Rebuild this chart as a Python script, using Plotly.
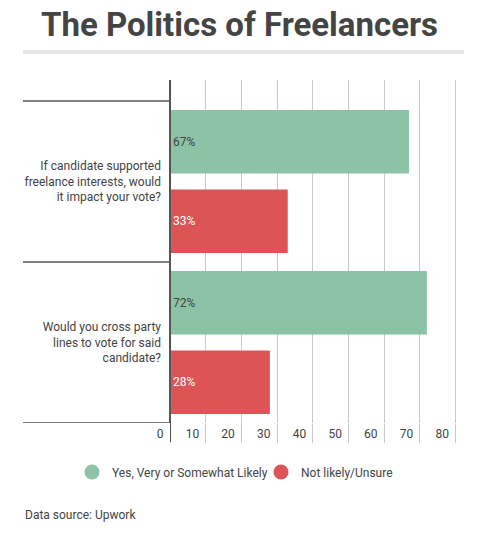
import plotly.graph_objects as go

questions = [
    "If candidate supported<br>freelance interests, would<br>it impact your vote?",
    "Would you cross party<br>lines to vote for said<br>candidate?",
]
series_names = ["Yes, Very or Somewhat Likely", "Not likely/Unsure"]
yes_values = [67, 72]
no_values = [33, 28]
x_ticks = [0, 10, 20, 30, 40, 50, 60, 70, 80]

GREEN = "#8cc3a6"
RED = "#dd5457"
TEXT = "#444444"
FONT = "Roboto"

W, H = 479, 533
L, R, T, B = 170, 20, 80, 110
plot_w = W - L - R
plot_h = H - T - B
ext = 19 / plot_h

fig = go.Figure()
fig.add_trace(go.Bar(
    y=questions, x=yes_values, orientation="h", name=series_names[0],
    marker=dict(color=GREEN, line=dict(width=0)),
    text=[f"{v}%" for v in yes_values], textposition="inside",
    insidetextanchor="start", textangle=0,
    textfont=dict(color=TEXT, size=12, family=FONT),
    showlegend=False, hoverinfo="skip",
))
fig.add_trace(go.Bar(
    y=questions, x=no_values, orientation="h", name=series_names[1],
    marker=dict(color=RED, line=dict(width=0)),
    text=[f"{v}%" for v in no_values], textposition="inside",
    insidetextanchor="start", textangle=0,
    textfont=dict(color="white", size=12, family=FONT),
    showlegend=False, hoverinfo="skip",
))
# legend entries with circle markers (no data points)
for name, col, lg in zip(series_names, [GREEN, RED], ["legend", "legend2"]):
    fig.add_trace(go.Scatter(
        x=[None], y=[None], mode="markers", name=name,
        marker=dict(color=col, size=15, symbol="circle"),
        xaxis="x2", yaxis="y2", legend=lg,
    ))

# category separators
for yb in [-0.5, 0.5, 1.5]:
    fig.add_shape(type="line", xref="paper", yref="y",
                  x0=(23 - L) / plot_w, x1=0, y0=yb, y1=yb,
                  line=dict(color="#555555", width=1.5))
# axis line extension below plot
fig.add_shape(type="line", xref="x", yref="paper", x0=0, x1=0,
              y0=-ext, y1=1, line=dict(color="#555555", width=2))
# grey rule under title
fig.add_shape(type="rect", xref="paper", yref="paper",
              x0=(23 - L) / plot_w, x1=(464 - L) / plot_w,
              y0=(H - B - 54) / plot_h, y1=(H - B - 50) / plot_h,
              fillcolor="#e6e6e6", line=dict(width=0))

fig.add_annotation(
    text="Data source: Upwork", xref="paper", yref="paper",
    x=(23 - L) / plot_w, y=(H - B - 515) / plot_h,
    xanchor="left", yanchor="middle", showarrow=False,
    font=dict(size=12, color=TEXT, family=FONT),
)

leg_common = dict(orientation="h", xref="container", xanchor="left",
                  yref="container", y=1 - 472 / H, yanchor="middle",
                  font=dict(size=12, color=TEXT, family=FONT),
                  bgcolor="rgba(0,0,0,0)", borderwidth=0)

fig.update_layout(
    width=W, height=H,
    margin=dict(l=L, r=R, t=T, b=B, autoexpand=False),
    paper_bgcolor="white", plot_bgcolor="white",
    font=dict(family=FONT, color=TEXT, size=12),
    title=dict(text="<b>The Politics of Freelancers</b>", x=0.5, xanchor="center",
               xref="container", y=1 - 24 / H, yref="container", yanchor="middle",
               font=dict(size=33, color=TEXT, family=FONT)),
    barmode="group", bargap=0.0125, bargroupgap=0.2,
    showlegend=True,
    legend=dict(x=(93 - 21) / W, **leg_common),
    legend2=dict(x=(282 - 21) / W, **leg_common),
    xaxis2=dict(visible=False, range=[0, 1], overlaying="x", fixedrange=True),
    yaxis2=dict(visible=False, range=[0, 1], overlaying="y", fixedrange=True),
)

fig.update_layout(xaxis=dict(
    range=[0, 81], tickvals=x_ticks, ticktext=[str(v) for v in x_ticks],
    showgrid=True, gridcolor="#c9c9c9", gridwidth=1,
    zeroline=True, zerolinecolor="#555555", zerolinewidth=2,
    ticks="outside", ticklen=19, tickcolor="#c9c9c9", tickwidth=1,
    ticklabelposition="outside left", ticklabelshift=-6, ticklabelstandoff=0,
    tickfont=dict(size=12, color=TEXT, family=FONT),
    showline=False, fixedrange=True,
))
fig.update_layout(yaxis=dict(
    type="category",
    autorange=False, range=[1.5, -0.5 - 21 / 161],
    showgrid=False, zeroline=False, showline=False, ticks="",
    ticklabelstandoff=8,
    tickfont=dict(size=12, color=TEXT, family=FONT),
    fixedrange=True,
))

fig.write_html("out.html",
               config={"displayModeBar": False, "staticPlot": False},
               post_script="document.body.style.margin='0';document.body.style.overflow='hidden';")
